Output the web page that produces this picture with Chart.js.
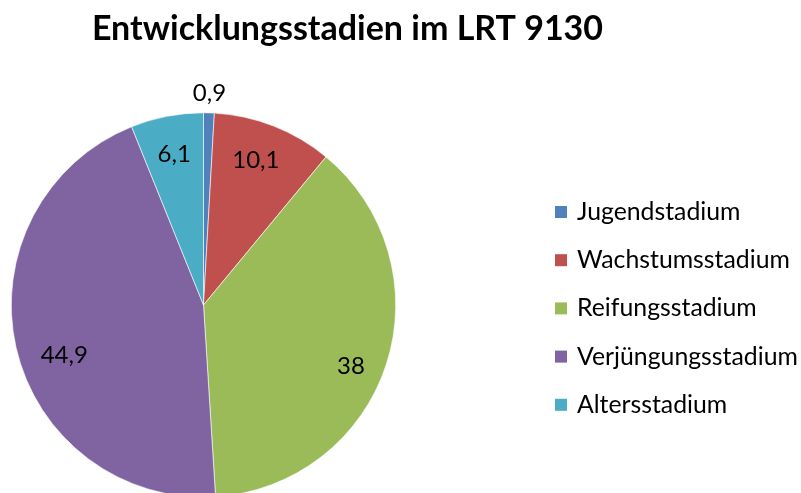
<!DOCTYPE html>
<html>
<head>
<meta charset="utf-8">
<script src="https://cdn.jsdelivr.net/npm/chart.js@4/dist/chart.umd.min.js"></script>
<style>
  html, body { margin: 0; padding: 0; background: #fff; }
  #wrap { width: 801px; height: 493px; overflow: hidden; position: relative; }
  canvas { display: block; }
</style>
</head>
<body>
<div id="wrap"><canvas id="stadienChart" width="801" height="530"></canvas></div>
<script>
const chartTitle = 'Entwicklungsstadien im LRT 9130';
const stadien = ['Jugendstadium', 'Wachstumsstadium', 'Reifungsstadium', 'Verjüngungsstadium', 'Altersstadium'];
const anteile = [0.9, 10.1, 38, 44.9, 6.1];
const farben = ['#4F81BD', '#C0504D', '#9BBB59', '#8064A2', '#4BACC6'];

const FONT = 'Lato, "Open Sans", sans-serif';

// label placement per slice: radius factor and angle nudge (deg)
const labelRadius = [1.1, 0.8, 0.83, 0.77, 0.8];
const labelNudge = [0, -1.5, 4.5, -7, 0];

const extrasPlugin = {
    id: 'extras',
    afterDatasetsDraw(chart) {
        const ctx = chart.ctx;
        const meta = chart.getDatasetMeta(0);
        ctx.save();
        ctx.fillStyle = '#000';
        ctx.textAlign = 'center';
        ctx.textBaseline = 'middle';
        ctx.font = '24px ' + FONT;
        meta.data.forEach(function(arc, i) {
            const mid = (arc.startAngle + arc.endAngle) / 2 + labelNudge[i] * Math.PI / 180;
            const r = arc.outerRadius * labelRadius[i];
            const x = arc.x + Math.cos(mid) * r;
            const y = arc.y + Math.sin(mid) * r;
            ctx.fillText(String(anteile[i]).replace('.', ','), x, y);
        });

        // title
        ctx.font = 'bold 34px ' + FONT;
        ctx.textBaseline = 'alphabetic';
        ctx.fillText(chartTitle, 347.5, 40);

        // legend
        ctx.textAlign = 'left';
        ctx.textBaseline = 'middle';
        ctx.font = '24.8px ' + FONT;
        stadien.forEach(function(name, i) {
            const y = 212 + i * 48.2;
            ctx.fillStyle = farben[i];
            ctx.fillRect(555, y - 6, 12, 12);
            ctx.fillStyle = '#000';
            ctx.fillText(name, 577, y);
        });
        ctx.restore();
    }
};

const ctx = document.getElementById('stadienChart').getContext('2d');
const chart = new Chart(ctx, {
    type: 'pie',
    data: {
        labels: stadien,
        datasets: [{
            data: anteile,
            backgroundColor: farben,
            borderColor: '#ffffff',
            borderWidth: 0.6
        }]
    },
    options: {
        responsive: false,
        animation: false,
        devicePixelRatio: 1,
        layout: {
            padding: { left: 11, top: 112.5, right: 405, bottom: 32.5 }
        },
        plugins: {
            legend: { display: false },
            title: { display: false },
            tooltip: { enabled: false }
        }
    },
    plugins: [extrasPlugin]
});
</script>
</body>
</html>
